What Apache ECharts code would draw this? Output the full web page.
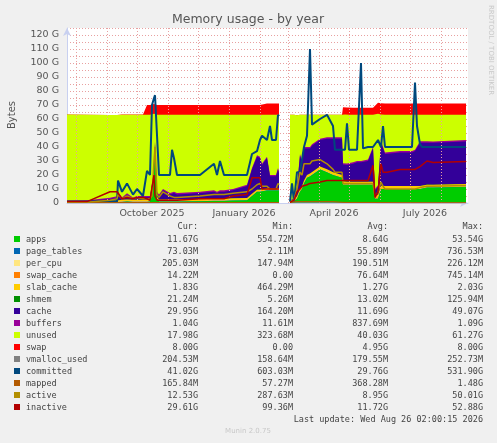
<!DOCTYPE html>
<html><head><meta charset="utf-8">
<script src="https://cdn.jsdelivr.net/npm/echarts@6/dist/echarts.min.js"></script>
<style>html,body{margin:0;padding:0;background:#f0f0f0}#c{width:497px;height:443px}</style>
</head><body><div id="c"></div>
<script>
// x = days relative to mid-October 2025 (gap = null row)
const days = [-85,-65,-42,-35,-34,-30,-25,-19,-15,-9, -5,-2,0,2,3,5,7,11,18,20, 22,25,48,62,65,68,72,81,95,100, 105,108,110,115,118,120,124,126,127, 132,
 138,140,142,145,148,150,152,155,158,160, 168,175,181,183,190,191,193,195,197,201, 205,209,211,216,221,223,226,229,231,233, 235,248,260,263,265,268,270,275,281,314];
const apps = [0.5,0.5,0.6,0.6,1,0.8,1,0.8,0.8,0.8, 0.8,1,2,20,40,3,1,1,1,1, 1,1,1.2,1.5,1.5,1.5,1.5,1.8,2,5, 8,8,9,9,9,9,9,9,9, null,
 0.5,1,1,3,8,10,14,18,19,20, 24,22,20,19,18,13,13,13,13,13, 13,13,13,13,13,3,3,10,10,10, 10,10,10,10,10,10,10,11,11,11.5];
const page_tables = [0.05,0.05,0.05,0.05,0.05,0.05,0.05,0.05,0.05,0.05, 0.05,0.05,0.05,0.05,0.05,0.05,0.05,0.05,0.05,0.05, 0.05,0.05,0.05,0.05,0.05,0.05,0.05,0.05,0.05,0.05, 0.05,0.05,0.05,0.05,0.05,0.05,0.05,0.05,0.05, null,
 0.05,0.05,0.05,0.05,0.05,0.05,0.05,0.05,0.05,0.05, 0.05,0.05,0.05,0.05,0.05,0.05,0.05,0.05,0.05,0.05, 0.05,0.05,0.05,0.05,0.05,0.05,0.05,0.05,0.05,0.05, 0.07,0.07,0.07,0.07,0.07,0.07,0.07,0.07,0.07,0.07];
const per_cpu = [0.2,0.2,0.2,0.2,0.2,0.2,0.2,0.2,0.2,0.2, 0.2,0.2,0.2,0.2,0.2,0.2,0.2,0.2,0.2,0.2, 0.2,0.2,0.2,0.2,0.2,0.2,0.2,0.2,0.2,0.2, 0.2,0.2,0.2,0.2,0.2,0.2,0.2,0.2,0.2, null,
 0.2,0.2,0.2,0.2,0.2,0.2,0.2,0.2,0.2,0.2, 0.2,0.2,0.2,0.2,0.2,0.2,0.2,0.2,0.2,0.2, 0.2,0.2,0.2,0.2,0.2,0.2,0.2,0.2,0.2,0.2, 0.2,0.2,0.2,0.2,0.2,0.2,0.2,0.2,0.2,0.2];
const swap_cache = [0,0,0,0,0,0,0,0,0,0, 0.1,0.1,0.1,0.1,0.1,0.1,0.1,0.1,0.1,0.1, 0.1,0.1,0.1,0.1,0.1,0.1,0.1,0.1,0.1,0.1, 0.1,0.1,0.1,0.1,0.1,0.1,0.1,0.1,0.1, null,
 0,0,0,0,0,0,0,0,0,0, 0,0,0,0,0,0.5,0.3,0.2,0.1,0.1, 0.1,0.1,0.1,0.1,0.1,0.1,0.7,0.3,0.2,0.1, 0.1,0.1,0.1,0.1,0.1,0.1,0.1,0.05,0.02,0.01];
const slab_cache = [0.5,0.5,1,1,1.2,1.2,1.2,1.2,1.2,1.2, 1.2,1.2,1.2,1.2,1.2,1.2,1.2,1.2,1.2,1.2, 1.2,1.2,1.2,1.2,1.2,1.2,1.2,1.2,1.2,1.2, 1.2,1.2,1.2,1.2,1.2,1.2,1.2,1.2,1.2, null,
 0.8,1,1,1.5,1.8,1.8,1.8,1.8,1.8,1.8, 1.8,1.8,1.8,1.8,1.8,1.8,1.8,1.8,1.8,1.8, 1.8,1.8,1.8,1.8,1.8,1.8,1.8,1.8,1.8,1.8, 1.8,1.8,1.8,1.8,1.8,1.8,1.8,1.8,1.8,1.8];
const shmem = [0.02,0.02,0.02,0.02,0.02,0.02,0.02,0.02,0.02,0.02, 0.02,0.02,0.02,0.02,0.02,0.02,0.02,0.02,0.02,0.02, 0.02,0.02,0.02,0.02,0.02,0.02,0.02,0.02,0.02,0.02, 0.02,0.02,0.02,0.02,0.02,0.02,0.02,0.02,0.02, null,
 0.02,0.02,0.02,0.02,0.02,0.02,0.02,0.02,0.02,0.02, 0.02,0.02,0.02,0.02,0.02,0.02,0.02,0.02,0.02,0.02, 0.02,0.02,0.02,0.02,0.02,0.02,0.02,0.02,0.02,0.02, 0.02,0.02,0.02,0.02,0.02,0.02,0.02,0.02,0.02,0.02];
const cache = [0.2,0.2,0.9,1.9,4.5,0.7,3.5,0.7,1.7,1.7, 1.7,1.5,1.5,0.2,1.5,2.5,2.5,6.5,3.5,3.5, 4.5,3.5,4.3,5,4,5,5,5.7,8.5,17.5, 23.5,22.5,16.5,21.5,8.5,8.5,8.5,13.5,10.5, null,
 0.2,0.2,0.2,5.9,23.9,16.9,22.9,18.9,17.9,18.9, 18.9,21.9,23.9,24.9,25.9,11.9,11.9,11.9,11.9,12.9, 13.9,13.9,13.9,14.9,23.9,3.9,5.9,30.9,26.9,22.9, 22.9,23.9,23.9,24.9,24.9,30.9,30.9,29.9,29.9,30.4];
const buffers = [0.3,0.5,1,1,1,1,1,1,1,1, 1,1,1,1,1,1,1,1,1,1, 1,1,1,1,1,1,1,1,1,1, 1,1,1,1,1,1,1,1,1, null,
 0.2,0.3,0.5,1,1,1,1,1,1,1, 1,1,1,1,1,1,1,1,1,1, 1,1,1,1,1,1,1,1,1,1, 1,1,1,1,1,1,1,1,1,1];
const unused = [61.5,61,59,58,55,59,56,59,58,58, 58,58,57,41,19,55,57,53,56,56, 55,56,55,54,55,54,54,53,50,38, 29,30,35,30,43,43,43,38,41, null,
 61,60,60,51,28,33,23,23,23,21, 17,16,16,16,16,35,35,35,35,34, 33,33,33,32,23,53,51,19,23,27, 27,26,26,25,25,19,19,19,19,18];
const swap = [0,0,0,0,0.3,0.3,0.3,0.3,0.3,0.3, 7,7,7,7,7,7,7,7,7,7, 7,7,7,7,7,7,7,7,7,7, 7,7,7,8,8,8,8,8,8, null,
 0,0,0,0,0,0,0,0,0,0, 0,0,0,0,0,5,5,5,5,5, 5,5,5,5,5,5,8,8,8,8, 8,8,8,8,8,8,8,8,8,8];
const vmalloc_used = [0.2,0.2,0.2,0.2,0.2,0.2,0.2,0.2,0.2,0.2, 0.2,0.2,0.2,0.2,0.2,0.2,0.2,0.2,0.2,0.2, 0.2,0.2,0.2,0.2,0.2,0.2,0.2,0.2,0.2,0.2, 0.2,0.2,0.2,0.2,0.2,0.2,0.2,0.2,0.2, null,
 0.2,0.2,0.2,0.2,0.2,0.2,0.2,0.2,0.2,0.2, 0.2,0.2,0.2,0.2,0.2,0.2,0.2,0.2,0.2,0.2, 0.2,0.2,0.2,0.2,0.2,0.2,0.2,0.2,0.2,0.2, 0.2,0.2,0.2,0.2,0.2,0.2,0.2,0.2,0.2,0.2];
const committed = [1,1,1,1,16,8,14,6,10,5, 23,20,70,75,77,77,20,20,20,38, 32,20,20,28,20,30,20,20,20,35, 37,45,48,45,55,45,45,63,62, null,
 1,14,1,22,22,22,40,48,110,56, 60,63,55,38,38,38,38,57,38,38, 38,100,39,40,40,40,45,40,55,40, 40,40,40,86,55,42,40,40,40,40];
const mapped = [0.3,0.3,0.3,0.3,0.3,0.3,0.3,0.3,0.3,0.3, 0.3,0.3,0.3,0.3,0.3,0.3,0.3,0.3,0.3,0.3, 0.3,0.3,0.3,0.3,0.3,0.3,0.3,0.3,0.3,0.3, 0.3,0.3,0.3,0.3,0.3,0.3,0.3,0.3,0.3, null,
 0.3,0.5,0.8,1,1,1,1,1,1,1, 1,1,1,1,0.5,0.4,0.4,0.4,0.4,0.4, 0.4,0.4,0.4,0.4,0.4,0.3,0.3,0.3,0.3,0.3, 0.2,0.2,0.2,0.2,0.2,0.2,0.2,0.2,0.2,0.17];
const active = [0.5,0.5,2,3,6,3,5,3,4,3, 3,3,5,30,40,6,4,8,5,4, 4,4,5,6,6,6,6,7,8,10, 13,14,12,12,10,10,10,14,13, null,
 0.5,1,2,10,22,20,28,28,28,30, 31,28,24,22,22,14,14,14,14,14, 14,14,14,14,14,4,8,15,12,10, 10,10,10,10,10,11,11,12,12,12.5];
const inactive = [1,1,8,8,8,3,4,3,4,4, 3,2,3,20,5,2,2,2,2,2, 2,2,3,3,3,3,3,5,6,18, 18,18,10,10,10,10,10,10,10, null,
 0.5,1,2,8,10,12,13,13,14,14, 15,16,16,16,16,16,16,16,16,16, 16,16,16,16,27,4,8,28,22,22, 22,24,24,24,25,26,27,30,29,29.6];

const monthStarts = [-76,-45,-15,16,46,77,108,136,167,197,228,258,289];
const labelPos = [0,92,182,273];
const labelTxt = ['October 2025','January 2026','April 2026','July 2026'];

const legendRows = [
 ['apps','#00cc00','11.67G','554.72M','8.64G','53.54G'],
 ['page_tables','#0066b3','73.03M','2.11M','55.89M','736.53M'],
 ['per_cpu','#ffe680','205.03M','147.94M','190.51M','226.12M'],
 ['swap_cache','#ff8000','14.22M','0.00','76.64M','745.14M'],
 ['slab_cache','#ffcc00','1.83G','464.29M','1.27G','2.03G'],
 ['shmem','#008f00','21.24M','5.26M','13.02M','125.94M'],
 ['cache','#330099','29.95G','164.20M','11.69G','49.07G'],
 ['buffers','#990099','1.04G','11.61M','837.69M','1.09G'],
 ['unused','#ccff00','17.98G','323.68M','40.03G','61.27G'],
 ['swap','#ff0000','8.00G','0.00','4.95G','8.00G'],
 ['vmalloc_used','#808080','204.53M','158.64M','179.55M','252.73M'],
 ['committed','#00487d','41.02G','603.03M','29.76G','531.90G'],
 ['mapped','#b35a00','165.84M','57.27M','368.28M','1.48G'],
 ['active','#b38f00','12.53G','287.63M','8.95G','50.01G'],
 ['inactive','#b30000','29.61G','99.36M','11.72G','52.88G']
];
const colorOf = {}; legendRows.forEach(r => colorOf[r[0]] = r[1]);

const areaList = [['apps',apps],['page_tables',page_tables],['per_cpu',per_cpu],['swap_cache',swap_cache],['slab_cache',slab_cache],
  ['shmem',shmem],['cache',cache],['buffers',buffers],['unused',unused],['swap',swap]];
const lineList = [['vmalloc_used',vmalloc_used],['committed',committed],['mapped',mapped],['active',active],['inactive',inactive]];
const lw = {vmalloc_used:1,committed:2,mapped:1,active:1.5,inactive:1.5};

const series = [];
let running = days.map(() => 0);
const cum = [];
areaList.forEach(([n, arr]) => {
  running = running.map((s, i) => arr[i] == null ? null : (s || 0) + arr[i]);
  cum.push([n, running.slice()]);
});
cum.forEach(([n, top]) => series.push({
  name:n, type:'line', data:days.map((d,i)=>[d, top[i]]), showSymbol:false, connectNulls:false,
  lineStyle:{width:0}, areaStyle:{color:colorOf[n], opacity:1, origin:'start'}, itemStyle:{color:colorOf[n]},
  silent:true, animation:false, z:2
}));
series.reverse();
lineList.forEach(([n, arr]) => series.push({
  name:n, type:'line', data:days.map((d,i)=>[d, arr[i]]), showSymbol:false, connectNulls:false,
  lineStyle:{width:lw[n], color:colorOf[n]}, itemStyle:{color:colorOf[n]}, silent:true, animation:false, z:5
}));
series.push({type:'line', data:[], silent:true, z:3, markLine:{silent:true, symbol:'none', label:{show:false}, animation:false,
  lineStyle:{color:'#e8a0a0', type:[1,2], width:1}, data: monthStarts.map(v => ({xAxis:v}))}});

const mono = 'DejaVu Sans Mono';
const g = [];
const cols = [198,293,388,483];
['Cur:','Min:','Avg:','Max:'].forEach((h,i) => g.push({type:'text', x:cols[i], y:222, style:{text:h, font:'8.5px '+mono, fill:'#444', textAlign:'right'}}));
legendRows.forEach((r,k) => {
  const y = 235 + k*12;
  g.push({type:'rect', shape:{x:14, y:y+1, width:6, height:6}, style:{fill:r[1]}});
  g.push({type:'text', x:26, y:y, style:{text:r[0], font:'8.5px '+mono, fill:'#444'}});
  for (let i=0;i<4;i++) g.push({type:'text', x:cols[i], y:y, style:{text:r[i+2], font:'8.5px '+mono, fill:'#444', textAlign:'right'}});
});
g.push({type:'text', x:483, y:415, style:{text:'Last update: Wed Aug 26 02:00:15 2026', font:'8.5px '+mono, fill:'#444', textAlign:'right'}});
g.push({type:'text', x:248, y:428, style:{text:'Munin 2.0.75', font:'7px DejaVu Sans', fill:'#c8c8c8', textAlign:'center'}});
g.push({type:'text', x:248, y:13, style:{text:'Memory usage - by year', font:'12.5px DejaVu Sans', fill:'#555', textAlign:'center'}});
g.push({type:'text', x:7, y:115, rotation:Math.PI/2, style:{text:'Bytes', font:'10px DejaVu Sans', fill:'#555', textAlign:'center', textVerticalAlign:'top'}});
g.push({type:'text', x:491, y:5, rotation:-Math.PI/2, style:{text:'RRDTOOL / TOBI OETIKER', font:'7px DejaVu Sans', fill:'#c8c8c8', textVerticalAlign:'middle'}});

const chart = echarts.init(document.getElementById('c'));
chart.setOption({
  backgroundColor:'#f0f0f0', animation:false,
  grid:{left:67, right:29, top:28, bottom:240, backgroundColor:'#fff', show:true, borderWidth:0},
  xAxis:{type:'value', min:-85, max:316,
    axisLine:{onZero:false, lineStyle:{color:'#c8d0f0'}, symbol:['none','arrow'], symbolSize:[6,8]},
    axisTick:{show:false}, splitLine:{show:false},
    axisLabel:{customValues:labelPos, formatter:v => labelTxt[labelPos.indexOf(v)] || '', color:'#555', fontSize:9.5, fontFamily:'DejaVu Sans', margin:6}},
  yAxis:{type:'value', min:0, max:125, interval:5,
    axisLine:{show:true, onZero:false, lineStyle:{color:'#c8d0f0'}, symbol:['none','arrow'], symbolSize:[6,8]},
    axisTick:{show:false},
    splitLine:{lineStyle:{color:'#e8a0a0', type:[1,2]}},
    axisLabel:{formatter:v => v%10 ? '' : (v===0?'0':v+' G'), color:'#555', fontSize:9.5, fontFamily:'DejaVu Sans'}},
  graphic:g,
  series
});
</script></body></html>
